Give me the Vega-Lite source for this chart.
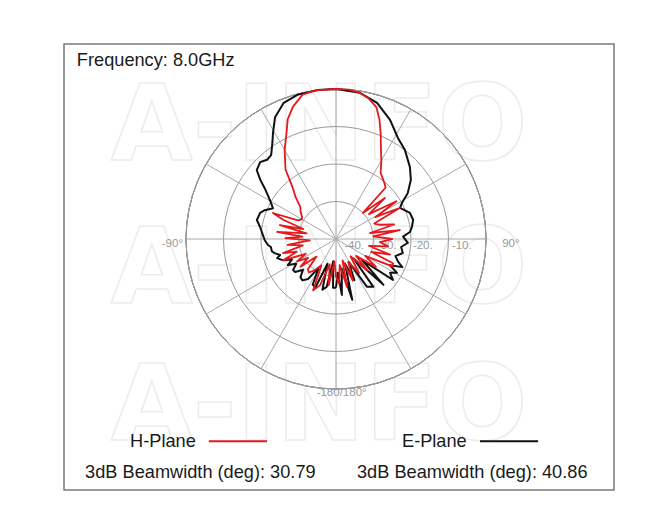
{
  "$schema": "https://vega.github.io/schema/vega-lite/v6.json",
  "width": 550,
  "height": 446,
  "autosize": {"type": "none"},
  "padding": {"left": 64, "top": 44, "right": 55, "bottom": 16},
  "background": "white",
  "config": {"view": {"stroke": "#7a7a7a", "strokeWidth": 1.5}, "font": "Liberation Sans"},
  "datasets": {
    "E": [
      {"ang": -180, "db": -27}, {"ang": -176.5, "db": -27}, {"ang": -173, "db": -34}, {"ang": -169, "db": -27},
      {"ang": -165, "db": -26}, {"ang": -161, "db": -33}, {"ang": -157, "db": -26}, {"ang": -153, "db": -26.3},
      {"ang": -149, "db": -31}, {"ang": -145, "db": -27}, {"ang": -141, "db": -25.8}, {"ang": -137, "db": -26.1},
      {"ang": -133, "db": -28}, {"ang": -129, "db": -26}, {"ang": -125.8, "db": -25.9}, {"ang": -122, "db": -27.5},
      {"ang": -118.4, "db": -25.4}, {"ang": -115, "db": -27}, {"ang": -112, "db": -24.8}, {"ang": -108, "db": -23.5},
      {"ang": -106, "db": -24.5}, {"ang": -103, "db": -23.2}, {"ang": -101, "db": -22.6}, {"ang": -97, "db": -22.5},
      {"ang": -95, "db": -21.8}, {"ang": -91, "db": -21}, {"ang": -85, "db": -20.2}, {"ang": -81, "db": -19.5},
      {"ang": -76.5, "db": -18.3}, {"ang": -71, "db": -18.6}, {"ang": -68, "db": -19.5}, {"ang": -64, "db": -21.3},
      {"ang": -59.4, "db": -19.5}, {"ang": -55, "db": -17}, {"ang": -52, "db": -14.4}, {"ang": -49, "db": -12},
      {"ang": -44.6, "db": -11.2}, {"ang": -41, "db": -12}, {"ang": -37.7, "db": -11.7}, {"ang": -34, "db": -9.6},
      {"ang": -30.7, "db": -7.1}, {"ang": -26.6, "db": -3.7}, {"ang": -21, "db": -1.1}, {"ang": -15, "db": -0.2},
      {"ang": -7, "db": 0}, {"ang": 0, "db": 0}, {"ang": 9.3, "db": -0.5}, {"ang": 16.8, "db": -2.1},
      {"ang": 24.4, "db": -5.1}, {"ang": 31.5, "db": -8.4}, {"ang": 37.8, "db": -10}, {"ang": 45.8, "db": -12.5},
      {"ang": 51.8, "db": -14.6}, {"ang": 57.4, "db": -17.3}, {"ang": 61.4, "db": -20}, {"ang": 64, "db": -21},
      {"ang": 70.6, "db": -19.1}, {"ang": 76, "db": -18.8}, {"ang": 81, "db": -19.5}, {"ang": 84.6, "db": -20.2},
      {"ang": 88, "db": -22.1}, {"ang": 93, "db": -20.8}, {"ang": 97, "db": -22.5}, {"ang": 101.8, "db": -21.8},
      {"ang": 106, "db": -23.5}, {"ang": 110, "db": -22.4}, {"ang": 113, "db": -20.8}, {"ang": 116, "db": -24},
      {"ang": 119, "db": -21.4}, {"ang": 122, "db": -23}, {"ang": 125.7, "db": -21.3}, {"ang": 129, "db": -31},
      {"ang": 134, "db": -22.4}, {"ang": 138, "db": -33}, {"ang": 142, "db": -23.8}, {"ang": 147, "db": -24.8},
      {"ang": 151, "db": -33}, {"ang": 156, "db": -28}, {"ang": 160, "db": -33}, {"ang": 165, "db": -23.2},
      {"ang": 169, "db": -32}, {"ang": 174, "db": -25}, {"ang": 177, "db": -31}, {"ang": 180, "db": -27}
    ],
    "H": [
      {"ang": -180, "db": -30}, {"ang": -176, "db": -34}, {"ang": -171, "db": -27.5}, {"ang": -166, "db": -33},
      {"ang": -161, "db": -27}, {"ang": -156, "db": -25}, {"ang": -151, "db": -32}, {"ang": -146, "db": -30},
      {"ang": -141, "db": -28.5}, {"ang": -137, "db": -29}, {"ang": -132, "db": -33}, {"ang": -128, "db": -28},
      {"ang": -124, "db": -31}, {"ang": -120, "db": -28}, {"ang": -116, "db": -31}, {"ang": -112, "db": -24.8},
      {"ang": -108, "db": -29}, {"ang": -105, "db": -25.4}, {"ang": -101, "db": -31}, {"ang": -97, "db": -27},
      {"ang": -93, "db": -33}, {"ang": -89, "db": -26.5}, {"ang": -86, "db": -31}, {"ang": -83, "db": -24.2},
      {"ang": -79, "db": -32}, {"ang": -76, "db": -24.6}, {"ang": -73, "db": -30.9}, {"ang": -70, "db": -25},
      {"ang": -67.6, "db": -21.8}, {"ang": -64, "db": -28.7}, {"ang": -60, "db": -29.5}, {"ang": -57, "db": -29.2},
      {"ang": -52, "db": -28}, {"ang": -48, "db": -27.2}, {"ang": -44, "db": -24.5}, {"ang": -40, "db": -22},
      {"ang": -36, "db": -17.1}, {"ang": -30, "db": -12.6}, {"ang": -25, "db": -8.8}, {"ang": -22, "db": -5.6},
      {"ang": -18, "db": -2.9}, {"ang": -13, "db": -0.5}, {"ang": -8, "db": 0}, {"ang": 0, "db": 0},
      {"ang": 5, "db": 0}, {"ang": 9.3, "db": -0.5}, {"ang": 13, "db": -1.5}, {"ang": 17, "db": -3.2},
      {"ang": 20, "db": -6.1}, {"ang": 23, "db": -9.5}, {"ang": 26, "db": -12.7}, {"ang": 30, "db": -15.8},
      {"ang": 34, "db": -18.7}, {"ang": 42, "db": -20.5}, {"ang": 44, "db": -21}, {"ang": 46, "db": -30},
      {"ang": 50, "db": -23}, {"ang": 53, "db": -29}, {"ang": 58, "db": -21}, {"ang": 61, "db": -28},
      {"ang": 64, "db": -21}, {"ang": 68, "db": -29}, {"ang": 72, "db": -27.7}, {"ang": 76, "db": -24},
      {"ang": 80, "db": -30.8}, {"ang": 82, "db": -22.8}, {"ang": 86, "db": -30}, {"ang": 90, "db": -25},
      {"ang": 94, "db": -28.3}, {"ang": 98, "db": -26}, {"ang": 102, "db": -31}, {"ang": 106, "db": -25},
      {"ang": 110, "db": -30}, {"ang": 113, "db": -23.5}, {"ang": 116, "db": -23.3}, {"ang": 120, "db": -31},
      {"ang": 125, "db": -27}, {"ang": 130, "db": -33}, {"ang": 135, "db": -28}, {"ang": 140, "db": -34},
      {"ang": 146, "db": -29}, {"ang": 152, "db": -33}, {"ang": 158, "db": -28}, {"ang": 163, "db": -34},
      {"ang": 167, "db": -26.9}, {"ang": 172, "db": -33}, {"ang": 176, "db": -28}, {"ang": 180, "db": -30}
    ],
    "rings": [{"ring": -30}, {"ring": -20}, {"ring": -10}, {"ring": 0}],
    "spokes": [{"ang": 0}, {"ang": 30}, {"ang": 60}, {"ang": 90}, {"ang": 120}, {"ang": 150}],
    "one": [{}]
  },
  "layer": [
    {
      "data": {"name": "one"},
      "mark": {"type": "text", "text": "A-INFO", "font": "DejaVu Sans", "fontWeight": "bold", "fontSize": 106, "align": "center", "baseline": "alphabetic", "fillOpacity": 0, "stroke": "#ececec", "strokeWidth": 1.5},
      "encoding": {
        "x": {"datum": -4.5, "type": "quantitative", "scale": {"domain": [-72.533, 74.133], "nice": false, "zero": false}, "axis": null},
        "y": {"datum": 21.07, "type": "quantitative", "scale": {"domain": [-66.933, 52], "nice": false, "zero": false}, "axis": null}
      }
    },
    {
      "data": {"name": "one"},
      "mark": {"type": "text", "text": "A-INFO", "font": "DejaVu Sans", "fontWeight": "bold", "fontSize": 106, "align": "center", "baseline": "alphabetic", "fillOpacity": 0, "stroke": "#ececec", "strokeWidth": 1.5},
      "encoding": {
        "x": {"datum": -4.5, "type": "quantitative", "scale": {"domain": [-72.533, 74.133], "nice": false, "zero": false}, "axis": null},
        "y": {"datum": -17.07, "type": "quantitative", "scale": {"domain": [-66.933, 52], "nice": false, "zero": false}, "axis": null}
      }
    },
    {
      "data": {"name": "one"},
      "mark": {"type": "text", "text": "A-INFO", "font": "DejaVu Sans", "fontWeight": "bold", "fontSize": 106, "align": "center", "baseline": "alphabetic", "fillOpacity": 0, "stroke": "#ececec", "strokeWidth": 1.5},
      "encoding": {
        "x": {"datum": -4.5, "type": "quantitative", "scale": {"domain": [-72.533, 74.133], "nice": false, "zero": false}, "axis": null},
        "y": {"datum": -53.6, "type": "quantitative", "scale": {"domain": [-66.933, 52], "nice": false, "zero": false}, "axis": null}
      }
    },
    {
      "data": {"name": "rings"},
      "mark": {"type": "arc", "filled": false, "stroke": "#9a9a9a", "strokeWidth": 1, "theta": 0, "theta2": 6.2832},
      "encoding": {
        "x": {"datum": 0, "type": "quantitative", "scale": {"domain": [-72.533, 74.133], "nice": false, "zero": false}, "axis": null},
        "y": {"datum": 0, "type": "quantitative", "scale": {"domain": [-66.933, 52], "nice": false, "zero": false}, "axis": null},
        "radius": {"field": "ring", "type": "quantitative", "stack": null, "scale": {"type": "linear", "domain": [-40, 0], "range": [0, 150], "zero": false}, "legend": null}
      }
    },
    {
      "data": {"name": "spokes"},
      "transform": [
        {"calculate": "40 * sin(datum.ang * PI / 180)", "as": "sx"},
        {"calculate": "40 * cos(datum.ang * PI / 180)", "as": "sy"},
        {"calculate": "-datum.sx", "as": "sx0"},
        {"calculate": "-datum.sy", "as": "sy0"}
      ],
      "mark": {"type": "rule", "stroke": "#a8a8a8", "strokeWidth": 1},
      "encoding": {
        "x": {"field": "sx0", "type": "quantitative", "scale": {"domain": [-72.533, 74.133], "nice": false, "zero": false}, "axis": null},
        "y": {"field": "sy0", "type": "quantitative", "scale": {"domain": [-66.933, 52], "nice": false, "zero": false}, "axis": null},
        "x2": {"field": "sx"},
        "y2": {"field": "sy"}
      }
    },
    {
      "data": {"values": [
        {"t": "-10.", "v": 30.9}, {"t": "-20.", "v": 20.5}, {"t": "-30.", "v": 10.9}, {"t": "-40.", "v": 2.2}
      ]},
      "mark": {"type": "text", "align": "left", "baseline": "middle", "fontSize": 11.5, "fill": "#9a9a9a"},
      "encoding": {
        "x": {"field": "v", "type": "quantitative", "scale": {"domain": [-72.533, 74.133], "nice": false, "zero": false}, "axis": null},
        "y": {"datum": -1.9, "type": "quantitative", "scale": {"domain": [-66.933, 52], "nice": false, "zero": false}, "axis": null},
        "text": {"field": "t"}
      }
    },
    {
      "data": {"name": "one"},
      "mark": {"type": "text", "text": "-90°", "align": "right", "baseline": "middle", "fontSize": 11.5, "fill": "#9a9a9a"},
      "encoding": {
        "x": {"datum": -40.8, "type": "quantitative", "scale": {"domain": [-72.533, 74.133], "nice": false, "zero": false}, "axis": null},
        "y": {"datum": -1.4, "type": "quantitative", "scale": {"domain": [-66.933, 52], "nice": false, "zero": false}, "axis": null}
      }
    },
    {
      "data": {"name": "one"},
      "mark": {"type": "text", "text": "90°", "align": "left", "baseline": "middle", "fontSize": 11.5, "fill": "#9a9a9a"},
      "encoding": {
        "x": {"datum": 44.3, "type": "quantitative", "scale": {"domain": [-72.533, 74.133], "nice": false, "zero": false}, "axis": null},
        "y": {"datum": -1.4, "type": "quantitative", "scale": {"domain": [-66.933, 52], "nice": false, "zero": false}, "axis": null}
      }
    },
    {
      "data": {"name": "one"},
      "mark": {"type": "text", "text": "-180/180°", "align": "center", "baseline": "middle", "fontSize": 11.5, "fill": "#9a9a9a"},
      "encoding": {
        "x": {"datum": 1.5, "type": "quantitative", "scale": {"domain": [-72.533, 74.133], "nice": false, "zero": false}, "axis": null},
        "y": {"datum": -41.1, "type": "quantitative", "scale": {"domain": [-66.933, 52], "nice": false, "zero": false}, "axis": null}
      }
    },
    {
      "data": {"name": "E"},
      "transform": [
        {"calculate": "(datum.db + 40) * sin(datum.ang * PI / 180)", "as": "px"},
        {"calculate": "(datum.db + 40) * cos(datum.ang * PI / 180)", "as": "py"}
      ],
      "mark": {"type": "line", "stroke": "#111111", "strokeWidth": 2, "strokeJoin": "round"},
      "encoding": {
        "x": {"field": "px", "type": "quantitative", "scale": {"domain": [-72.533, 74.133], "nice": false, "zero": false}, "axis": null},
        "y": {"field": "py", "type": "quantitative", "scale": {"domain": [-66.933, 52], "nice": false, "zero": false}, "axis": null},
        "order": {"field": "ang", "type": "quantitative"}
      }
    },
    {
      "data": {"name": "H"},
      "transform": [
        {"calculate": "(datum.db + 40) * sin(datum.ang * PI / 180)", "as": "px"},
        {"calculate": "(datum.db + 40) * cos(datum.ang * PI / 180)", "as": "py"}
      ],
      "mark": {"type": "line", "stroke": "#e3191c", "strokeWidth": 1.8, "strokeJoin": "round"},
      "encoding": {
        "x": {"field": "px", "type": "quantitative", "scale": {"domain": [-72.533, 74.133], "nice": false, "zero": false}, "axis": null},
        "y": {"field": "py", "type": "quantitative", "scale": {"domain": [-66.933, 52], "nice": false, "zero": false}, "axis": null},
        "order": {"field": "ang", "type": "quantitative"}
      }
    },
    {
      "data": {"values": [
        {"t": "Frequency: 8.0GHz", "lx": -69.1, "ly": 46.1},
        {"t": "H-Plane", "lx": -54.9, "ly": -55.5},
        {"t": "E-Plane", "lx": 17.6, "ly": -55.5},
        {"t": "3dB Beamwidth (deg): 30.79", "lx": -66.9, "ly": -63.7},
        {"t": "3dB Beamwidth (deg): 40.86", "lx": 5.6, "ly": -63.7}
      ]},
      "mark": {"type": "text", "align": "left", "baseline": "alphabetic", "fontSize": 18.2, "fill": "#1a1a1a"},
      "encoding": {
        "x": {"field": "lx", "type": "quantitative", "scale": {"domain": [-72.533, 74.133], "nice": false, "zero": false}, "axis": null},
        "y": {"field": "ly", "type": "quantitative", "scale": {"domain": [-66.933, 52], "nice": false, "zero": false}, "axis": null},
        "text": {"field": "t"}
      }
    },
    {
      "data": {"name": "one"},
      "mark": {"type": "rule", "stroke": "#e3191c", "strokeWidth": 2},
      "encoding": {
        "x": {"datum": -33.9, "type": "quantitative", "scale": {"domain": [-72.533, 74.133], "nice": false, "zero": false}, "axis": null},
        "x2": {"datum": -18.4},
        "y": {"datum": -53.9, "type": "quantitative", "scale": {"domain": [-66.933, 52], "nice": false, "zero": false}, "axis": null}
      }
    },
    {
      "data": {"name": "one"},
      "mark": {"type": "rule", "stroke": "#111111", "strokeWidth": 2},
      "encoding": {
        "x": {"datum": 38.4, "type": "quantitative", "scale": {"domain": [-72.533, 74.133], "nice": false, "zero": false}, "axis": null},
        "x2": {"datum": 53.9},
        "y": {"datum": -53.9, "type": "quantitative", "scale": {"domain": [-66.933, 52], "nice": false, "zero": false}, "axis": null}
      }
    }
  ]
}
